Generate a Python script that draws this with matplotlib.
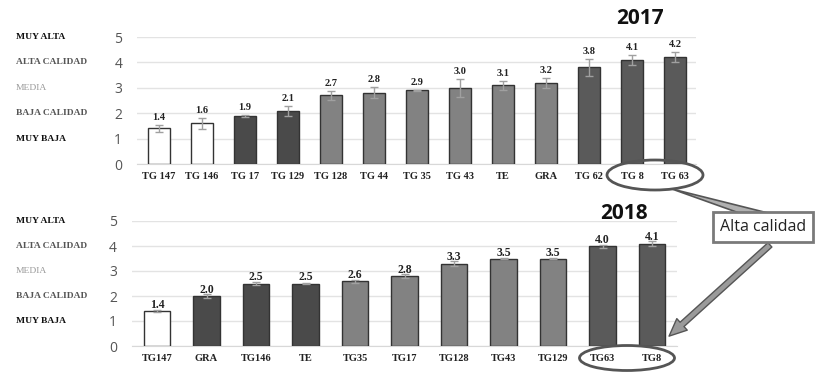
import matplotlib
matplotlib.use('Agg')
import matplotlib.pyplot as plt
from matplotlib.patches import Ellipse, FancyArrowPatch, Polygon
from matplotlib.transforms import blended_transform_factory

# datos 2017
cats_2017 = ['TG 147', 'TG 146', 'TG 17', 'TG 129', 'TG 128', 'TG 44', 'TG 35',
             'TG 43', 'TE', 'GRA', 'TG 62', 'TG 8', 'TG 63']
vals_2017 = [1.4, 1.6, 1.9, 2.1, 2.7, 2.8, 2.9, 3.0, 3.1, 3.2, 3.8, 4.1, 4.2]
err_2017 = [0.15, 0.22, 0.03, 0.2, 0.18, 0.22, 0.03, 0.35, 0.18, 0.2, 0.35, 0.2, 0.2]
grp_2017 = [0, 0, 1, 1, 2, 2, 2, 2, 2, 2, 3, 3, 3]

# datos 2018
cats_2018 = ['TG147', 'GRA', 'TG146', 'TE', 'TG35', 'TG17', 'TG128', 'TG43',
             'TG129', 'TG63', 'TG8']
vals_2018 = [1.4, 2.0, 2.5, 2.5, 2.6, 2.8, 3.3, 3.5, 3.5, 4.0, 4.1]
err_2018 = [0.03, 0.08, 0.06, 0.03, 0.06, 0.08, 0.1, 0.03, 0.03, 0.06, 0.1]
grp_2018 = [0, 1, 1, 1, 2, 2, 2, 2, 2, 3, 3]

niveles = ['MUY BAJA', 'BAJA CALIDAD', 'MEDIA', 'ALTA CALIDAD', 'MUY ALTA']
niveles_color = ['#111111', '#555555', '#999999', '#555555', '#111111']
niveles_peso = ['bold', 'bold', 'normal', 'bold', 'bold']

colores = ['white', '#4a4a4a', '#828282', '#5a5a5a']
W, H = 829, 372

fig = plt.figure(figsize=(W / 100, H / 100), dpi=100)
fig.patch.set_facecolor('white')


def px(x, y):
    return (x / W, 1 - y / H)


def panel(rect, cats, vals, errs, grps, ancho, xmax, lbl_size, offset):
    ax = fig.add_axes(rect)
    x = range(len(cats))
    cols = [colores[g] for g in grps]
    ax.bar(x, vals, width=ancho, color=cols, edgecolor='#333333', linewidth=1.0, zorder=3)
    ax.errorbar(x, vals, yerr=errs, fmt='none', ecolor='#a0a0a0', elinewidth=1,
                capsize=3, zorder=4)
    for i, v in enumerate(vals):
        ax.text(i, v + offset(errs[i]), f'{v:.1f}', ha='center', va='bottom',
                family='Liberation Serif', fontweight='bold', fontsize=lbl_size,
                color='#222222', zorder=5)
    ax.set_xlim(-0.5, xmax)
    ax.set_ylim(0, 5)
    ax.set_yticks(range(6))
    ax.yaxis.grid(True, color='#e3e3e3', linewidth=1, zorder=0)
    ax.set_xticks(list(x))
    ax.set_xticklabels(cats, family='Liberation Serif', fontweight='bold', fontsize=7.5,
                       color='#222222')
    ax.tick_params(axis='both', length=0)
    ax.tick_params(axis='x', pad=6)
    ax.tick_params(axis='y', labelsize=10, labelcolor='#555555', pad=11)
    for lab in ax.get_yticklabels():
        lab.set_family('Open Sans')
    for s in ['top', 'right', 'left']:
        ax.spines[s].set_visible(False)
    ax.spines['bottom'].set_color('#d8d8d8')
    tr = blended_transform_factory(fig.transFigure, ax.transData)
    for k, n in enumerate(niveles):
        ax.text(16 / W, k + 1, n, transform=tr, ha='left', va='center',
                family='Liberation Serif', fontsize=6.8, color=niveles_color[k],
                fontweight=niveles_peso[k])
    return ax


ax1 = panel([137.5 / W, 1 - 164 / H, 559 / W, 127 / H], cats_2017, vals_2017, err_2017,
            grp_2017, 0.5, 12.5, 7.5, lambda e: e + 0.12)
ax2 = panel([132.3 / W, 1 - 346 / H, 544.5 / W, 125 / H], cats_2018, vals_2018, err_2018,
            grp_2018, 0.54, 10.5, 8.5, lambda e: 0.0)

fig.text(*px(640, 18), '2017', ha='center', va='center', fontsize=15,
         fontweight='bold', family='Open Sans', color='#111111')
fig.text(*px(624, 213), '2018', ha='center', va='center', fontsize=15,
         fontweight='bold', family='Open Sans', color='#111111')

# elipses de alta calidad
fig.add_artist(Ellipse(px(655, 175), 96 / W, 30 / H, transform=fig.transFigure,
                       fill=False, edgecolor='#555555', linewidth=2))
fig.add_artist(Ellipse(px(627, 358), 95 / W, 25 / H, transform=fig.transFigure,
                       fill=False, edgecolor='#555555', linewidth=2))

# flecha superior (cuña de llamada) e inferior
fig.add_artist(Polygon([px(672, 189), px(742, 214), px(772, 214)], closed=True,
                       transform=fig.transFigure, facecolor='#b0b0b0',
                       edgecolor='#555555', linewidth=1.2))
fig.add_artist(FancyArrowPatch(px(772, 243), px(667, 338), transform=fig.transFigure,
                               arrowstyle='simple,head_width=0.8,head_length=0.9,tail_width=0.3',
                               color='#9a9a9a', ec='#555555', lw=1, mutation_scale=14))

fig.text(*px(763, 227), 'Alta calidad', ha='center', va='center', fontsize=11.5,
         family='Open Sans', color='#222222', zorder=5,
         bbox=dict(boxstyle='square,pad=0.45', facecolor='white', edgecolor='#7a7a7a',
                   linewidth=2))

fig.savefig('out.png', dpi=100)
